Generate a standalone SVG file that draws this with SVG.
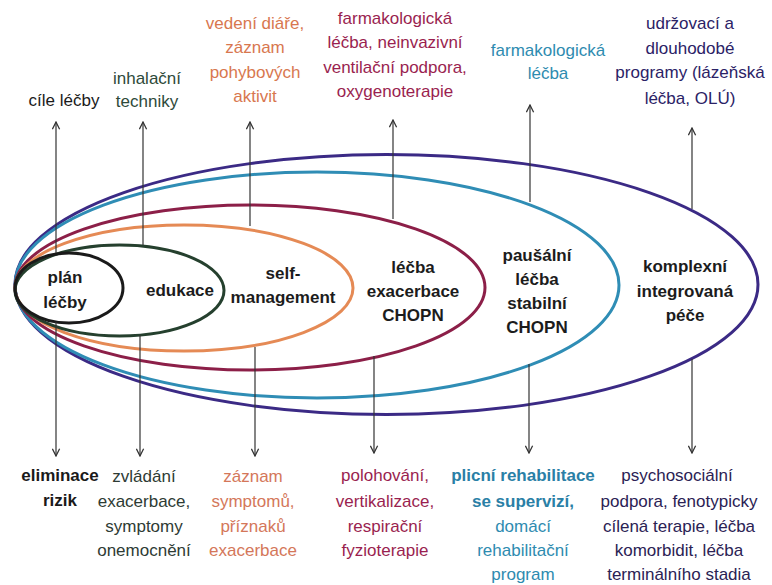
<svg xmlns="http://www.w3.org/2000/svg" width="772" height="585" viewBox="0 0 772 585">
  <defs>
    <marker id="arrow" viewBox="0 0 10 10" refX="9" refY="5" markerWidth="9" markerHeight="9" markerUnits="userSpaceOnUse" orient="auto">
      <path d="M1,1 L9,5 L1,9" fill="none" stroke="#333" stroke-width="1.4"/>
    </marker>
    <style>
      .ring { fill: none; stroke-width: 3; }
      .lbl { font-family: "Liberation Sans", Arial, sans-serif; font-size: 17px; text-anchor: middle; }
      .node { font-weight: bold; fill: #1c1c1c; }
      .conn line { stroke: #333; stroke-width: 1.2; marker-end: url(#arrow); }
    </style>
  </defs>
  <rect width="772" height="585" fill="#ffffff"/>

  <!-- nested care levels, outermost first -->
  <g id="komplexni">
    <ellipse class="ring" cx="386.5" cy="284.5" rx="371.5" ry="130" stroke="#3b2a85"/>
    <text class="lbl node" x="685" y="272">komplexní</text>
    <text class="lbl node" x="685" y="297">integrovaná</text>
    <text class="lbl node" x="685" y="321">péče</text>
  </g>
  <g id="pausalni">
    <ellipse class="ring" cx="317" cy="285" rx="302" ry="113" stroke="#2f8db5"/>
    <text class="lbl node" x="537" y="261">paušální</text>
    <text class="lbl node" x="537" y="285">léčba</text>
    <text class="lbl node" x="537" y="309">stabilní</text>
    <text class="lbl node" x="537" y="333">CHOPN</text>
  </g>
  <g id="exacerbace">
    <ellipse class="ring" cx="250" cy="287.5" rx="235" ry="82.5" stroke="#8c1f48"/>
    <text class="lbl node" x="413" y="273">léčba</text>
    <text class="lbl node" x="413" y="297">exacerbace</text>
    <text class="lbl node" x="413" y="321">CHOPN</text>
  </g>
  <g id="selfmanagement">
    <ellipse class="ring" cx="184" cy="288" rx="169" ry="63" stroke="#e58a55"/>
    <text class="lbl node" x="283" y="279">self-</text>
    <text class="lbl node" x="283" y="303">management</text>
  </g>
  <g id="edukace">
    <ellipse class="ring" cx="119.5" cy="290.5" rx="104.5" ry="45.5" stroke="#25402e"/>
    <text class="lbl node" x="180" y="296">edukace</text>
  </g>
  <g id="plan">
    <ellipse class="ring" cx="69" cy="288" rx="54" ry="35" stroke="#1a1a1a"/>
    <text class="lbl node" x="65" y="283">plán</text>
    <text class="lbl node" x="65" y="308">léčby</text>
  </g>

  <!-- connectors -->
  <g class="conn" id="connectors">
    <line x1="56" y1="253" x2="56" y2="122"/>
    <line x1="143" y1="245" x2="143" y2="122"/>
    <line x1="250" y1="226" x2="250" y2="122"/>
    <line x1="393" y1="219" x2="393" y2="120"/>
    <line x1="530" y1="202" x2="530" y2="105"/>
    <line x1="692" y1="209" x2="692" y2="128"/>
    <line x1="56" y1="322" x2="56" y2="456"/>
    <line x1="140" y1="335" x2="140" y2="456"/>
    <line x1="255" y1="347" x2="255" y2="456"/>
    <line x1="374" y1="356" x2="374" y2="453"/>
    <line x1="529" y1="364" x2="529" y2="453"/>
    <line x1="692" y1="359" x2="692" y2="453"/>
  </g>

  <!-- upper annotations -->
  <g id="top-plan">
    <text class="lbl" x="64" y="106" fill="#1a1a1a">cíle léčby</text>
  </g>
  <g id="top-edukace">
    <text class="lbl" x="147" y="84" fill="#2e4a3a">inhalační</text>
    <text class="lbl" x="147" y="107" fill="#2e4a3a">techniky</text>
  </g>
  <g id="top-self">
    <text class="lbl" x="255" y="29" fill="#d8774f">vedení diáře,</text>
    <text class="lbl" x="255" y="53" fill="#d8774f">záznam</text>
    <text class="lbl" x="255" y="78" fill="#d8774f">pohybových</text>
    <text class="lbl" x="255" y="102" fill="#d8774f">aktivit</text>
  </g>
  <g id="top-exacerbace">
    <text class="lbl" x="395" y="24" fill="#9a1f50">farmakologická</text>
    <text class="lbl" x="395" y="48" fill="#9a1f50">léčba, neinvazivní</text>
    <text class="lbl" x="395" y="73" fill="#9a1f50">ventilační podpora,</text>
    <text class="lbl" x="395" y="97" fill="#9a1f50">oxygenoterapie</text>
  </g>
  <g id="top-pausalni">
    <text class="lbl" x="548" y="56" fill="#2e8bb0">farmakologická</text>
    <text class="lbl" x="548" y="79" fill="#2e8bb0">léčba</text>
  </g>
  <g id="top-komplexni">
    <text class="lbl" x="690" y="29" fill="#2b2266">udržovací a</text>
    <text class="lbl" x="690" y="54" fill="#2b2266">dlouhodobé</text>
    <text class="lbl" x="690" y="78" fill="#2b2266">programy (lázeňská</text>
    <text class="lbl" x="690" y="104" fill="#2b2266">léčba, OLÚ)</text>
  </g>

  <!-- lower annotations -->
  <g id="bottom-plan">
    <text class="lbl" x="60" y="481" fill="#1a1a1a" font-weight="bold">eliminace</text>
    <text class="lbl" x="60" y="506" fill="#1a1a1a" font-weight="bold">rizik</text>
  </g>
  <g id="bottom-edukace">
    <text class="lbl" x="144" y="482" fill="#2e3b34">zvládání</text>
    <text class="lbl" x="144" y="507" fill="#2e3b34">exacerbace,</text>
    <text class="lbl" x="144" y="532" fill="#2e3b34">symptomy</text>
    <text class="lbl" x="144" y="556" fill="#2e3b34">onemocnění</text>
  </g>
  <g id="bottom-self">
    <text class="lbl" x="253" y="482" fill="#d4775a">záznam</text>
    <text class="lbl" x="253" y="507" fill="#d4775a">symptomů,</text>
    <text class="lbl" x="253" y="532" fill="#d4775a">příznaků</text>
    <text class="lbl" x="253" y="556" fill="#d4775a">exacerbace</text>
  </g>
  <g id="bottom-exacerbace">
    <text class="lbl" x="385" y="481" fill="#9a1f50">polohování,</text>
    <text class="lbl" x="385" y="507" fill="#9a1f50">vertikalizace,</text>
    <text class="lbl" x="385" y="532" fill="#9a1f50">respirační</text>
    <text class="lbl" x="385" y="556" fill="#9a1f50">fyzioterapie</text>
  </g>
  <g id="bottom-pausalni">
    <text class="lbl" x="523" y="481" fill="#2a7fa6" font-weight="bold">plicní rehabilitace</text>
    <text class="lbl" x="523" y="507" fill="#2a7fa6" font-weight="bold">se supervizí,</text>
    <text class="lbl" x="523" y="532" fill="#2e8bb0">domácí</text>
    <text class="lbl" x="523" y="556" fill="#2e8bb0">rehabilitační</text>
    <text class="lbl" x="523" y="580" fill="#2e8bb0">program</text>
  </g>
  <g id="bottom-komplexni">
    <text class="lbl" x="677" y="481" fill="#2b2254">psychosociální</text>
    <text class="lbl" x="679" y="507" fill="#2b2254">podpora, fenotypicky</text>
    <text class="lbl" x="679" y="532" fill="#2b2254">cílená terapie, léčba</text>
    <text class="lbl" x="679" y="556" fill="#2b2254">komorbidit, léčba</text>
    <text class="lbl" x="679" y="580" fill="#2b2254">terminálního stadia</text>
  </g>
</svg>
